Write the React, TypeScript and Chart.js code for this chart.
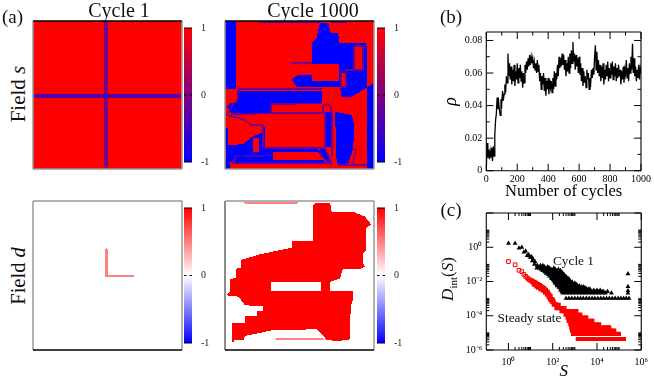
import React, { useEffect, useRef } from "react";
import { Chart, registerables } from "chart.js";
Chart.register(...registerables);

const SERIF = '"Liberation Serif", serif';

// ---------- panel (b): density rho (units of 0.001), one value each 5 cycles ----------
const rhoMilli = [
  0,17,8,13,7,12,8,14,6,15,9,22,31,35,45,38,42,37,34,44,
  41,49,43,47,53,48,58,54,72,58,66,56,64,53,62,55,65,52,61,56,
  66,54,63,57,65,55,61,51,60,54,65,60,67,62,69,64,71,65,70,66,
  69,63,67,62,66,60,68,61,65,55,60,50,58,53,60,49,57,46,55,50,
  57,47,56,51,55,48,57,50,61,52,60,56,65,58,70,63,69,64,72,65,
  71,62,68,58,66,61,70,60,72,63,74,66,79,67,72,62,71,64,69,60,
  70,59,66,55,63,52,61,54,58,51,62,56,60,50,57,54,62,57,63,59,
  70,77,62,73,60,68,58,65,55,64,57,66,53,62,56,65,58,67,55,63,
  57,66,59,67,56,64,58,66,55,63,57,65,58,62,53,61,56,64,54,62,
  59,68,57,63,55,66,60,70,62,78,60,69,58,64,55,62,57,65,56,63,60,
];
const cycleStep = 5;
const rhoXMajor = [0, 200, 400, 600, 800, 1000];
const rhoXMinor = [100, 300, 500, 700, 900];
const rhoYMajor = [0, 0.02, 0.04, 0.06, 0.08];
const rhoYMinor = [0.01, 0.03, 0.05, 0.07];

// ---------- panel (c): avalanche size distributions ----------
const cycleOneSparse: number[][] = [
  [1,1.7],[2,1.7],[3,0.9],[4,1.0],[5,0.52],[6,0.6],[7,0.33],[8,0.38],[9,0.3],[10,0.25],[11,0.28],[12,0.16],[13,0.2],[15,0.1],[16,0.14],[19,0.06],
  [250000,0.028],[250000,0.005],[250000,0.0029],[250000,0.0021],
];
const cycleOneRows: [number, number[]][] = [
  [1.05e-3,[400,540,730,1000,1350,1800,2400,3300,4400,6000,8000,11000,15000,20000,27000,36000,49000,66000,90000,120000,160000,210000,280000]],
  [2.1e-3,[280,400,560,790,1100,1580,2200,3100,4400,6200,8700,12200,17000,24000,45000]],
  [2.6e-3,[260,340,470,670,950,1350,1900,2700,3800,5400,7600,9000,11000,13000,17000,20000,30000]],
  [3.1e-3,[224,316,447,631,891,1259,1778,2512,3548,5012,7079,10000,14000]],
  [3.6e-3,[240,340,480,680,960,1360,1900,2700,4000,4800]],
  [4.2e-3,[200,280,400,560,790,1100,1580,2200,3100]],
  [4.9e-3,[190,270,380,540,760,1080,1500,2000,2500]],
  [5.6e-3,[160,224,316,447,631,891,1259,1600]],
  [6.7e-3,[150,210,300,420,600,850,1200]],
  [8e-3,[126,178,250,355,500,708,1000]],
  [9.3e-3,[130,190,270,380,540,760]],
  [0.0107,[112,158,224,316,447,631]],
  [0.0128,[105,148,210,300,420,560]],
  [0.015,[89,126,178,251,355,500]],
  [0.018,[85,120,170,240,340,420]],
  [0.021,[71,100,141,200,282,355]],
  [0.025,[62,88,124,175,250,330]],
  [0.03,[50,71,100,141,200,282]],
  [0.036,[43,60,85,120,170,260]],
  [0.043,[35,50,71,100,141,224]],
  [0.051,[30,42,60,85,130,180]],
  [0.06,[25,35,50,71,112]],
  [0.072,[22,30,42,60]],
  [0.085,[20,28,36]],
];
const steadyHollow: number[][] = [
  [1,0.146],[2,0.095],[3,0.045],[4,0.038],[5,0.026],[6,0.02],[7,0.0166],[8,0.014],[9,0.0125],
];
const steadyRibbon: number[][] = [
  [10,0.0117],[11,0.0105],[12,0.0095],[13,0.0088],[14,0.0085],[15,0.0078],[16,0.0074],[18,0.0068],[20,0.0063],[22,0.0058],[25,0.0052],[28,0.0046],[32,0.0042],[36,0.0038],[40,0.0034],[45,0.003],[50,0.0028],[55,0.0024],[60,0.0019],[70,0.0013],[80,0.00105],[90,0.00085],
  [12,0.0115],[15,0.0095],[18,0.0085],[22,0.0072],[26,0.0062],[30,0.0055],[36,0.0046],[42,0.004],[50,0.0033],[60,0.0025],[70,0.0018],[80,0.0014],[100,0.0009],
  [14,0.0065],[18,0.0052],[22,0.0044],[28,0.0036],[36,0.0029],[45,0.0022],[55,0.0017],[65,0.0012],[75,0.0009],[90,0.00068],[110,0.00055],[130,0.00048],[150,0.0004],[180,0.00033],
];
const steadyRows: [number, number[]][] = [
  [4.4e-6,[1350,1800,2400,3300,4400,6000,8000,11000,15000,20000,27000,36000,49000,66000,90000,120000,165000]],
  [8.8e-6,[830,1100,1500,2000,2700,3600,4900,6600,8900,12000,16000,22000,30000,40000,54000,73000,98000]],
  [1.35e-5,[740,1000,1350,1800,2400,3300,4400,6000,8000,11000,15000,20000,27000,36000,49000,60000]],
  [2.1e-5,[680,900,1200,1600,2150,2900,3900,5200,7000,9400,12700,17000,23000,31000,36000]],
  [3.2e-5,[620,830,1120,1510,2040,2750,3720,5000,6800,9200,12500]],
  [5e-5,[520,700,950,1280,1730,2340,3170,4280,5800,6200]],
  [7.8e-5,[470,640,870,1170,1590,2150,2900,3300]],
  [1.17e-4,[380,520,700,950,1280,1780]],
  [1.86e-4,[250,340,460,620,840,1170]],
  [2.8e-4,[148,190,245,320,340]],
  [4.4e-4,[112,135,160,186]],
  [6.8e-4,[92,100,110]],
];
const sizeMajor = [1, 100, 1e4, 1e6];
const probMajor = [1e-6, 1e-4, 1e-2, 1];
const probUnlabelled = [1e2];
const decadeSteps = [2, 3, 4, 5, 6, 7, 8, 9, 10];
const sizeExp = ["10\u2070", "10\u00b2", "10\u2074", "10\u2076"];
const probExp = ["10\u207b\u2076", "10\u207b\u2074", "10\u207b\u00b2", "10\u2070"];

// ---------- panel (a): the four fields, regions on the lattice ----------
// each area: [value, ...corners]; two corners = a box, more = a polygon; strokes: [value, halfWidth, ...polyline]
const fieldS1Areas: number[][] = [[1, 98, 65, 545, 509]];
const fieldS1Strokes: number[][] = [
  [-0.1, 4.5, 317, 65, 317, 503],
  [-0.35, 4.5, 103, 290, 540, 290],
];
const fieldD1Strokes: number[][] = [
  [0.5, 3.5, 318, 180, 318, 260, 399, 260],
];
const fieldS1000Areas: number[][] = [
  [1, 45, 63, 492, 508],
  [-1, 45, 63, 78, 268],
  [-1, 330,68, 355,68, 360,97, 385,100, 387,128, 468,130, 472,150, 472,262, 425,290, 395,290, 390,262, 260,262, 245,238, 265,225, 305,225, 305,130, 320,115, 325,90],
  [1, 433, 138, 462, 208],
  [1, 305, 192, 388, 243],
  [1, 393, 218, 408, 262],
  [-1, 472,262, 491,248, 492,508, 472,508],
  [-1, 82,272, 335,272, 335,308, 345,340, 65,340, 50,320, 60,310, 80,308],
  [1, 180, 310, 345, 335],
  [-1, 375,335, 425,345, 432,370, 430,445, 415,490, 380,493],
  [-1, 347, 335, 365, 440],
  [-1, 325,450, 345,445, 368,490, 355,492],
  [-1, 45, 385, 55, 437],
  [-1, 48,437, 100,432, 125,412, 158,396, 158,380, 165,380, 165,448, 325,448, 345,487, 48,487],
  [-1, 45, 487, 60, 507],
  [1, 130, 415, 147, 455],
  [1, 190,455, 322,455, 342,480, 190,480],
];
const fieldS1000Strokes: number[][] = [
  [-0.3, 2.5, 150, 66, 330, 66],
  [-0.3, 2.5, 365, 66, 410, 66],
  [-0.1, 2.5, 245, 190, 305, 190],
  [-0.1, 2.5, 88, 266, 335, 266],
  [-0.1, 2.5, 82, 262, 88, 268, 82, 300, 70, 312, 55, 340],
  [-0.1, 2.5, 182, 336, 182, 312, 335, 310],
  [-0.1, 2.5, 185, 338, 340, 338, 338, 318, 350, 312, 362, 320, 362, 340],
  [-0.1, 2.5, 50, 345, 100, 358, 125, 376, 160, 376, 160, 445, 340, 445],
  [-0.1, 2.5, 65, 342, 345, 338],
  [-0.1, 2.5, 345, 338, 345, 445, 365, 490],
  [-0.1, 2.5, 365, 335, 365, 470],
  [-0.1, 2.5, 393, 215, 393, 262, 408, 262, 408, 215],
  [-0.1, 2.5, 408, 210, 460, 210, 460, 138, 433, 138, 433, 208],
  [-0.1, 2.5, 428, 445, 440, 450, 428, 490],
  [-0.35, 2.5, 75, 470, 190, 466],
  [-0.35, 3.5, 70, 489, 360, 489],
  [-0.1, 2.5, 80, 465, 70, 488],
  [-0.1, 2.5, 385, 496, 470, 496],
];
const fieldD1000Areas: number[][] = [
  [1, 318,40, 360,40, 365,68, 430,68, 465,82, 483,105, 468,118, 468,185, 460,190, 460,222, 465,232, 448,240, 398,240, 390,268, 360,278, 360,305, 430,305, 430,330, 422,350, 420,450, 385,455, 350,452, 340,440, 320,420, 190,422, 105,440, 100,452, 72,452, 68,470, 65,400, 105,400, 105,380, 140,380, 140,365, 158,365, 158,350, 105,348, 85,322, 50,318, 60,305, 60,270, 78,265, 78,238, 92,235, 92,212, 150,195, 245,175, 245,155, 308,155, 308,50],
  [0, 182, 278, 332, 305],
];
const fieldD1000Strokes: number[][] = [
  [0.5, 2.5, 105, 40, 262, 40],
  [0.5, 2.5, 197, 450, 340, 450],
];

// ---------- helpers ----------
const colS = (v: number) => {
  const t = (v + 1) / 2;
  return `rgb(${Math.round(255 * t)},0,${Math.round(255 * (1 - t))})`;
};
const colD = (v: number) => {
  if (v >= 0) { const c = Math.round(255 * (1 - v)); return `rgb(255,${c},${c})`; }
  const c = Math.round(255 * (1 + v)); return `rgb(${c},${c},255)`;
};

function inPoly(px: number, py: number, c: number[]) {
  let inside = false;
  const n = c.length / 2;
  for (let i = 0, j = n - 1; i < n; j = i++) {
    const xi = c[2 * i], yi = c[2 * i + 1], xj = c[2 * j], yj = c[2 * j + 1];
    if ((yi > py) !== (yj > py) && px < ((xj - xi) * (py - yi)) / (yj - yi) + xi) inside = !inside;
  }
  return inside;
}
function nearLine(px: number, py: number, hw: number, c: number[]) {
  for (let i = 0; i + 3 < c.length; i += 2) {
    const ax = c[i], ay = c[i + 1], bx = c[i + 2], by = c[i + 3];
    const dx = bx - ax, dy = by - ay;
    const l = dx * dx + dy * dy || 1;
    const t = Math.max(0, Math.min(1, ((px - ax) * dx + (py - ay) * dy) / l));
    const qx = ax + t * dx - px, qy = ay + t * dy - py;
    if (qx * qx + qy * qy <= hw * hw) return true;
  }
  return false;
}
function cellsOf(areas: number[][], strokes: number[][], box: number[]) {
  const [x0, y0, x1, y1] = box;
  const groups = new Map<number, { x: number; y: number }[]>();
  for (let y = y0 + 1.5; y < y1; y += 3) {
    for (let x = x0 + 1.5; x < x1; x += 3) {
      let v = 0;
      for (const a of areas) {
        const c = a.slice(1);
        const hit = c.length === 4 ? x >= c[0] && x < c[2] && y >= c[1] && y < c[3] : inPoly(x, y, c);
        if (hit) v = a[0];
      }
      for (const s of strokes) if (nearLine(x, y, s[1], s.slice(2))) v = s[0];
      if (!groups.has(v)) groups.set(v, []);
      groups.get(v)!.push({ x, y });
    }
  }
  return groups;
}

type Side = { top?: string; right?: string; bottom?: string; left?: string };
function framePlugin(sides: Side, width: number, marks?: { xMajor?: number[]; xMinor?: number[]; yMajor?: number[]; yMinor?: number[]; major?: number; minor?: number }) {
  return {
    id: "frame",
    afterDatasetsDraw(chart: any) {
      const { ctx, chartArea: a, scales } = chart;
      ctx.save();
      ctx.lineWidth = width;
      const seg = (col: string, x0: number, y0: number, x1: number, y1: number) => {
        ctx.strokeStyle = col; ctx.beginPath(); ctx.moveTo(x0, y0); ctx.lineTo(x1, y1); ctx.stroke();
      };
      if (sides.left) seg(sides.left, a.left, a.top, a.left, a.bottom);
      if (sides.right) seg(sides.right, a.right, a.top, a.right, a.bottom);
      if (sides.bottom) seg(sides.bottom, a.left, a.bottom, a.right, a.bottom);
      if (sides.top) seg(sides.top, a.left, a.top, a.right, a.top);
      if (marks) {
        ctx.lineWidth = 1;
        const xt = (vals: number[] | undefined, len: number) => (vals || []).forEach((v) => {
          const p = scales.x.getPixelForValue(v);
          if (p < a.left - 0.5 || p > a.right + 0.5) return;
          seg("#000", p, a.bottom, p, a.bottom - len); seg("#000", p, a.top, p, a.top + len);
        });
        const yt = (vals: number[] | undefined, len: number) => (vals || []).forEach((v) => {
          const p = scales.y.getPixelForValue(v);
          if (p < a.top - 0.5 || p > a.bottom + 0.5) return;
          seg("#000", a.left, p, a.left + len, p); seg("#000", a.right, p, a.right - len, p);
        });
        xt(marks.xMajor, marks.major || 7); xt(marks.xMinor, marks.minor || 3.5);
        yt(marks.yMajor, marks.major || 7); yt(marks.yMinor, marks.minor || 3.5);
      }
      ctx.restore();
    },
  };
}

function heatConfig(areas: number[][], strokes: number[][], box: number[], color: (v: number) => string, sides: Side) {
  const groups = cellsOf(areas, strokes, box);
  const datasets: any[] = [];
  groups.forEach((data, v) => {
    if (color === colD && v === 0) return;
    datasets.push({ label: `value ${v}`, data, backgroundColor: color(v), borderWidth: 0, pointRadius: 0.75, pointHoverRadius: 0.75, pointStyle: "rect" });
  });
  return {
    type: "scatter",
    data: { datasets },
    options: {
      responsive: false, animation: false, parsing: false, normalized: true,
      layout: { padding: 2 },
      plugins: { legend: { display: false }, tooltip: { enabled: false } },
      events: [],
      scales: {
        x: { type: "linear", display: false, min: box[0], max: box[2] },
        y: { type: "linear", display: false, min: box[1], max: box[3], reverse: true },
      },
    },
    plugins: [framePlugin(sides, 1.5)],
  };
}

function barConfig(stops: string[], labelPad: number) {
  return {
    type: "bar",
    data: {
      labels: ["scale"],
      datasets: [{
        label: "colour scale",
        data: [[-1, 1]],
        barPercentage: 1, categoryPercentage: 1,
        backgroundColor: (c: any) => {
          const a = c.chart.chartArea;
          if (!a) return stops[2];
          const g = c.chart.ctx.createLinearGradient(0, a.bottom, 0, a.top);
          g.addColorStop(0, stops[0]); g.addColorStop(0.5, stops[1]); g.addColorStop(1, stops[2]);
          return g;
        },
      }],
    },
    options: {
      responsive: false, animation: false,
      layout: { padding: { top: 8, bottom: 8, left: 0, right: 0 } },
      plugins: { legend: { display: false }, tooltip: { enabled: false } },
      events: [],
      scales: {
        x: { display: false },
        y: {
          position: "right", min: -1, max: 1,
          afterBuildTicks: (s: any) => { s.ticks = [-1, 0, 1].map((value) => ({ value })); },
          afterFit: (s: any) => { s.width = 24; },
          grid: { display: false, drawTicks: false }, border: { display: false },
          ticks: { padding: labelPad, color: "#222", font: { family: SERIF, size: 10 }, callback: (v: any) => String(v) },
        },
      },
    },
    plugins: [framePlugin({ top: "#000", bottom: "#000" }, 1, { yMajor: [0], major: 2.5 })],
  };
}

function rhoConfig() {
  return {
    type: "line",
    data: {
      labels: rhoMilli.map((_, i) => i * cycleStep),
      datasets: [{ label: "rho", data: rhoMilli.map((v, i) => ({ x: i * cycleStep, y: v / 1000 })), borderColor: "#000", borderWidth: 1.3, pointRadius: 0, tension: 0 }],
    },
    options: {
      responsive: false, animation: false,
      layout: { padding: { top: 7, right: 12, left: 0, bottom: 0 } },
      plugins: { legend: { display: false }, tooltip: { enabled: false } },
      events: [],
      scales: {
        x: {
          type: "linear", min: 0, max: 1000,
          afterBuildTicks: (s: any) => { s.ticks = rhoXMajor.map((value) => ({ value })); },
          afterFit: (s: any) => { s.height = 31.3; },
          grid: { display: false, drawTicks: false }, border: { display: false },
          ticks: { padding: 3, maxRotation: 0, autoSkip: false, color: "#000", font: { family: SERIF, size: 10 }, callback: (v: any) => String(v) },
          title: { display: true, text: "Number of cycles", color: "#000", font: { family: SERIF, size: 16.5 }, padding: 0 },
        },
        y: {
          type: "linear", min: 0, max: 0.0852,
          afterBuildTicks: (s: any) => { s.ticks = rhoYMajor.map((value) => ({ value })); },
          afterFit: (s: any) => { s.width = 46.3; },
          grid: { display: false, drawTicks: false }, border: { display: false },
          ticks: { padding: 4, color: "#000", font: { family: SERIF, size: 10 }, callback: (v: any) => (v === 0 ? "0" : Number(v).toFixed(2)) },
          title: { display: true, text: "\u03c1", color: "#000", font: { family: SERIF, size: 18, style: "italic" }, padding: 0 },
        },
      },
    },
    plugins: [framePlugin({ top: "#000", right: "#000", bottom: "#000", left: "#000" }, 1.1, { xMajor: rhoXMajor, xMinor: rhoXMinor, yMajor: rhoYMajor, yMinor: rhoYMinor })],
  };
}

const rowsToPoints = (rows: [number, number[]][]) => rows.flatMap(([y, xs]) => xs.map((x) => ({ x, y })));
const pairsToPoints = (pairs: number[][]) => pairs.map(([x, y]) => ({ x, y }));

function sizeConfig() {
  const minorOf = (majors: number[]) => majors.flatMap((m) => decadeSteps.map((k) => k * m));
  return {
    type: "scatter",
    data: {
      datasets: [
        { label: "Cycle 1", data: [...pairsToPoints(cycleOneSparse), ...rowsToPoints(cycleOneRows)], pointStyle: "triangle", pointRadius: 2.8, backgroundColor: "#000", borderWidth: 0 },
        { label: "Steady state (small)", data: pairsToPoints(steadyHollow), pointStyle: "rect", pointRadius: 2.6, backgroundColor: "rgba(0,0,0,0)", borderColor: "#f00", borderWidth: 1 },
        { label: "Steady state", data: [...pairsToPoints(steadyRibbon), ...rowsToPoints(steadyRows)], pointStyle: "rect", pointRadius: 2.9, backgroundColor: "#f00", borderWidth: 0 },
      ],
    },
    options: {
      responsive: false, animation: false,
      layout: { padding: { top: 7, right: 12, left: 0, bottom: 0 } },
      plugins: { legend: { display: false }, tooltip: { enabled: false } },
      events: [],
      scales: {
        x: {
          type: "logarithmic", min: 0.1, max: 1e6,
          afterBuildTicks: (s: any) => { s.ticks = sizeMajor.map((value) => ({ value })); },
          afterFit: (s: any) => { s.height = 32; },
          grid: { display: false, drawTicks: false }, border: { display: false },
          ticks: { padding: 6, maxRotation: 0, autoSkip: false, color: "#000", font: { family: SERIF, size: 10 }, callback: (_: any, i: number) => sizeExp[i] },
          title: { display: true, text: "S", color: "#000", font: { family: SERIF, size: 17, style: "italic" }, padding: 0 },
        },
        y: {
          type: "logarithmic", min: 1e-6, max: 1e2,
          afterBuildTicks: (s: any) => { s.ticks = probMajor.map((value) => ({ value })); },
          afterFit: (s: any) => { s.width = 46.3; },
          grid: { display: false, drawTicks: false }, border: { display: false },
          ticks: { padding: 4, color: "#000", font: { family: SERIF, size: 10 }, callback: (_: any, i: number) => probExp[i] },
        },
      },
    },
    plugins: [framePlugin({ top: "#000", right: "#000", bottom: "#000", left: "#000" }, 1.1, {
      xMajor: sizeMajor, xMinor: minorOf(sizeMajor),
      yMajor: [...probMajor, ...probUnlabelled], yMinor: minorOf(probMajor),
      minor: 3,
    })],
  };
}

function Plot({ left, top, w, h, make }: { left: number; top: number; w: number; h: number; make: () => any }) {
  const ref = useRef<HTMLCanvasElement>(null);
  useEffect(() => {
    const c = new Chart(ref.current as any, make());
    return () => c.destroy();
  }, []);
  return <canvas ref={ref} width={w} height={h} style={{ position: "absolute", left, top, width: w, height: h }} />;
}

function Label({ x, y, size, rot, children }: { x: number; y: number; size: number; rot?: boolean; children: React.ReactNode }) {
  return (
    <div style={{ position: "absolute", left: x, top: y, transform: `translate(-50%,-50%)${rot ? " rotate(-90deg)" : ""}`, fontFamily: SERIF, fontSize: size, lineHeight: 1, whiteSpace: "nowrap", color: "#111" }}>
      {children}
    </div>
  );
}

const heatBoxA = [98, 65, 545, 509];
const heatBoxB = [45, 63, 492, 507];
const heatBoxC = [98, 35, 545, 482];
const heatBoxD = [45, 35, 492, 482];
const grey = "#999";

export default function App() {
  return (
    <div style={{ position: "absolute", left: 0, top: 0, width: 654, height: 378, overflow: "hidden", background: "#fff", filter: "blur(0.45px)" }}>
      <Plot left={31} top={19} w={153} h={152} make={() => heatConfig(fieldS1Areas, fieldS1Strokes, heatBoxA, colS, { left: grey, right: grey, bottom: grey, top: "#000" })} />
      <Plot left={223} top={19} w={153} h={152} make={() => heatConfig(fieldS1000Areas, fieldS1000Strokes, heatBoxB, colS, { left: grey, right: grey, bottom: grey, top: "#000" })} />
      <Plot left={31} top={199} w={153} h={153} make={() => heatConfig([], fieldD1Strokes, heatBoxC, colD, { left: grey, right: grey, top: grey, bottom: "#000" })} />
      <Plot left={223} top={199} w={153} h={153} make={() => heatConfig(fieldD1000Areas, fieldD1000Strokes, heatBoxD, colD, { left: "#666", right: grey, top: grey, bottom: "#000" })} />

      <Plot left={184} top={13} w={32} h={164} make={() => barConfig(["#0000ff", "#800080", "#ff0000"], 9)} />
      <Plot left={377} top={13} w={32} h={164} make={() => barConfig(["#0000ff", "#800080", "#ff0000"], 9)} />
      <Plot left={184} top={193} w={32} h={165} make={() => barConfig(["#0000ff", "#ffffff", "#ff0000"], 9)} />
      <Plot left={377} top={193} w={32} h={165} make={() => barConfig(["#0000ff", "#ffffff", "#ff0000"], 9)} />

      <Plot left={440} top={22} w={214} h={180} make={rhoConfig} />
      <Plot left={440} top={203} w={214} h={179} make={sizeConfig} />

      <Label x={119} y={10} size={20}>Cycle 1</Label>
      <Label x={313} y={10} size={20}>Cycle 1000</Label>
      <Label x={12.5} y={16} size={19}>(a)</Label>
      <Label x={451} y={16} size={19}>(b)</Label>
      <Label x={451} y={209} size={19}>(c)</Label>
      <Label x={18} y={94} size={21} rot>Field <i>s</i></Label>
      <Label x={18} y={276} size={20.5} rot>Field <i>d</i></Label>
      <Label x={449} y={279} size={17} rot><i>D</i><sub style={{ fontSize: 11 }}>int</sub>(<i>S</i>)</Label>
      <Label x={573.5} y={260.5} size={13.3}>Cycle 1</Label>
      <Label x={529.5} y={318} size={13.3}>Steady state</Label>
    </div>
  );
}
